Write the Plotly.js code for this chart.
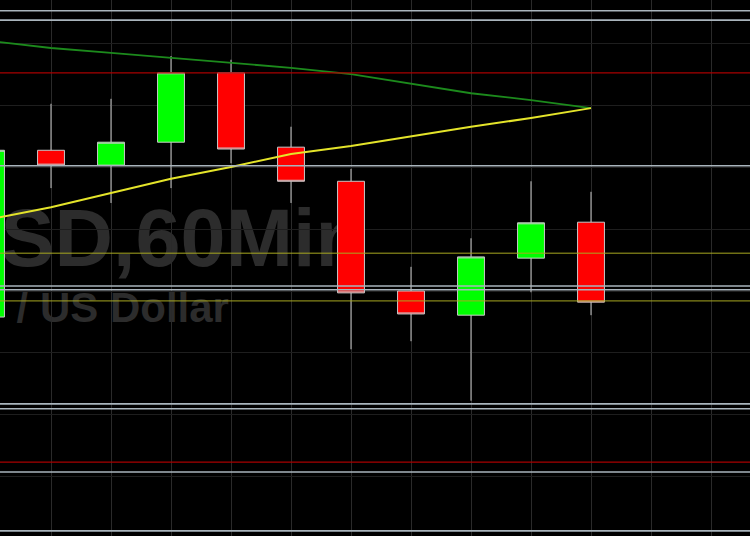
<!DOCTYPE html>
<html>
<head>
<meta charset="utf-8">
<script src="https://cdn.plot.ly/plotly-3.0.1.min.js"></script>
<style>
  html, body { margin: 0; padding: 0; background: #000; }
  #chart { width: 750px; height: 536px; }
</style>
</head>
<body>
<div id="chart"></div>
<script>
// ---- data (hourly bars) ----
const bars   = [0, 1, 2, 3, 4, 5, 6, 7, 8, 9, 10];
const opens  = [1.30558, 1.30827, 1.30803, 1.30840, 1.30952, 1.30832, 1.30777, 1.30600, 1.30561, 1.30653, 1.30711];
const highs  = [1.30844, 1.30902, 1.30910, 1.30979, 1.30973, 1.30865, 1.30797, 1.30639, 1.30685, 1.30777, 1.30760];
const lows   = [1.30545, 1.30766, 1.30742, 1.30766, 1.30806, 1.30742, 1.30506, 1.30519, 1.30423, 1.30598, 1.30561];
const closes = [1.30827, 1.30803, 1.30840, 1.30952, 1.30829, 1.30777, 1.30597, 1.30563, 1.30655, 1.30710, 1.30582];

// moving average (green) and rising trend line (yellow)
const maLine    = [1.31003, 1.30992, 1.30984, 1.30976, 1.30968, 1.30960, 1.30950, 1.30935, 1.30919, 1.30908, 1.30895];
const trendLine = [1.30716, 1.30735, 1.30758, 1.30781, 1.30800, 1.30821, 1.30834, 1.30850, 1.30865, 1.30879, 1.30895];

// horizontal levels
const grayLevels   = [1.31052, 1.31037, 1.30802, 1.30608, 1.30602, 1.30418, 1.30410, 1.30308, 1.30213];
const redLevels    = [1.30952, 1.30324];
const yellowLevels = [1.30661, 1.30584];

// watermark (as visible in the picture)
const watermark1 = "SD,60Min";
const watermark2 = "/ US Dollar";

// ---- traces ----
const candles = {
  type: 'candlestick',
  x: bars, open: opens, high: highs, low: lows, close: closes,
  increasing: { fillcolor: '#00ff00', line: { color: '#c8c8c8', width: 1 } },
  decreasing: { fillcolor: '#ff0000', line: { color: '#c8c8c8', width: 1 } },
  whiskerwidth: 0,
  hoverinfo: 'skip'
};
const ma = {
  type: 'scatter', mode: 'lines', x: bars, y: maLine,
  line: { color: '#1c8a1c', width: 1.8 }, hoverinfo: 'skip'
};
const trend = {
  type: 'scatter', mode: 'lines', x: bars, y: trendLine,
  line: { color: '#e4e42a', width: 2 }, hoverinfo: 'skip'
};

// ---- shapes ----
const shapes = [];
function hline(level, color, width) {
  shapes.push({ type: 'line', xref: 'paper', x0: 0, x1: 1, yref: 'y', y0: level, y1: level,
    line: { color: color, width: width }, layer: 'above' });
}
grayLevels.forEach(v => hline(v, '#a9b4bc', 1.6));
redLevels.forEach(v => hline(v, '#a80000', 1.2));
yellowLevels.forEach(v => hline(v, '#a8a820', 1));

// watermark labels (drawn beneath the bars)
shapes.push({
  type: 'rect', xref: 'paper', yref: 'paper', x0: -1, x1: 0.4907, y0: 0.5400, y1: 0.6000,
  line: { width: 0 }, fillcolor: 'rgba(0,0,0,0)', layer: 'between',
  label: { text: watermark1, textposition: 'middle right', padding: 0,
    font: { family: 'Liberation Sans, Arial, sans-serif', size: 81, color: '#2c2c2c', weight: 'bold' } }
});
shapes.push({
  type: 'rect', xref: 'paper', yref: 'paper', x0: -1, x1: 0.3093, y0: 0.4038, y1: 0.4638,
  line: { width: 0 }, fillcolor: 'rgba(0,0,0,0)', layer: 'between',
  label: { text: watermark2, textposition: 'middle right', padding: 0,
    font: { family: 'Liberation Sans, Arial, sans-serif', size: 42, color: '#2c2c2c', weight: 'bold' } }
});

const layout = {
  width: 750, height: 536,
  margin: { l: 0, r: 0, t: 0, b: 0 },
  paper_bgcolor: '#000', plot_bgcolor: '#000',
  showlegend: false, hovermode: false,
  boxgap: 0.36,
  xaxis: {
    range: [0.15, 12.65], tick0: 0, dtick: 1,
    showgrid: true, gridcolor: '#2a2a2a', gridwidth: 1,
    zeroline: false, showticklabels: false, ticks: '', showline: false,
    rangeslider: { visible: false }, fixedrange: true
  },
  yaxis: {
    range: [1.302048, 1.310694], tick0: 1.3, dtick: 0.001,
    showgrid: true, gridcolor: '#1e1e1e', gridwidth: 1,
    zeroline: false, showticklabels: false, ticks: '', showline: false, fixedrange: true
  },
  shapes: shapes
};

Plotly.newPlot('chart', [candles, ma, trend], layout, { displayModeBar: false, staticPlot: true });
</script>
</body>
</html>
